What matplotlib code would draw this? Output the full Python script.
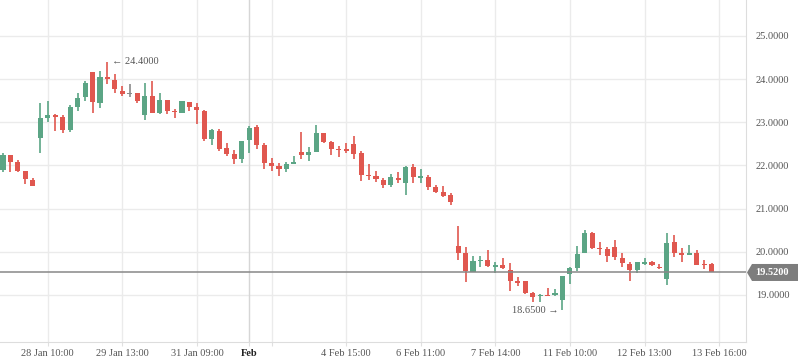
import matplotlib.pyplot as plt
from matplotlib.patches import Polygon

# giá mở / cao / thấp / đóng cho từng nến
opens = [21.90, 22.24, 22.08, 21.87, 21.66, 22.64, 23.10, 23.17, 23.12, 22.82,
         23.36, 23.59, 24.17, 23.45, 24.05, 23.98, 23.73, 23.66, 23.68, 23.17,
         23.61, 23.22, 23.52, 23.26, 23.22, 23.47, 23.36, 23.26, 22.61, 22.80,
         22.41, 22.27, 22.15, 22.59, 22.89, 22.48, 22.06, 21.99, 21.92, 22.03,
         22.31, 22.24, 22.31, 22.75, 22.54, 22.38, 22.38, 22.50, 22.29, 21.78,
         21.76, 21.66, 21.55, 21.71, 21.59, 21.96, 21.73, 21.73, 21.50, 21.39,
         21.32, 20.14, 19.97, 19.53, 19.79, 19.81, 19.67, 19.70, 19.58, 19.32,
         19.32, 19.05, 18.98, 19.00, 19.00, 18.88, 19.49, 19.63, 19.97, 20.44,
         20.09, 20.07, 20.11, 19.86, 19.72, 19.58, 19.74, 19.76, 19.65, 19.37,
         20.23, 19.97, 19.93, 19.97, 19.72, 19.72]
highs = [22.29, 22.24, 22.13, 21.87, 21.71, 23.45, 23.49, 23.19, 23.17, 23.40,
         23.68, 23.96, 24.17, 24.19, 24.40, 24.12, 23.84, 23.89, 23.68, 23.91,
         23.96, 23.68, 23.52, 23.31, 23.49, 23.47, 23.45, 23.29, 22.85, 22.85,
         22.52, 22.36, 22.57, 22.92, 22.94, 22.52, 22.17, 22.06, 22.08, 22.22,
         22.78, 22.43, 22.94, 22.75, 22.57, 22.45, 22.52, 22.68, 22.34, 22.03,
         21.87, 21.71, 21.80, 21.85, 21.99, 22.03, 21.92, 21.78, 21.55, 21.53,
         21.36, 20.60, 20.11, 19.90, 19.90, 20.04, 19.76, 19.86, 19.74, 19.42,
         19.32, 19.07, 19.02, 19.16, 19.14, 19.44, 19.65, 20.14, 20.51, 20.46,
         20.23, 20.11, 20.27, 19.97, 19.76, 19.76, 19.86, 19.79, 19.72, 20.44,
         20.39, 20.09, 20.16, 20.04, 19.81, 19.74]
lows = [21.85, 21.85, 21.85, 21.57, 21.53, 22.29, 23.00, 22.80, 22.75, 22.78,
        23.26, 23.49, 23.22, 23.33, 23.89, 23.68, 23.61, 23.59, 23.45, 23.05,
        23.22, 23.19, 23.19, 23.10, 23.22, 23.26, 22.96, 22.57, 22.48, 22.34,
        22.22, 22.03, 22.06, 22.29, 22.38, 21.92, 21.87, 21.76, 21.85, 22.03,
        22.15, 22.10, 22.31, 22.52, 22.24, 22.20, 22.29, 22.15, 21.64, 21.66,
        21.62, 21.48, 21.50, 21.59, 21.32, 21.59, 21.59, 21.43, 21.36, 21.27,
        21.09, 19.81, 19.30, 19.53, 19.65, 19.65, 19.51, 19.60, 19.09, 19.21,
        19.02, 18.84, 18.84, 18.98, 18.98, 18.65, 19.26, 19.56, 19.97, 20.07,
        19.93, 19.76, 19.81, 19.65, 19.32, 19.51, 19.70, 19.67, 19.60, 19.23,
        19.88, 19.76, 19.93, 19.70, 19.60, 19.52]
closes = [22.24, 22.08, 21.87, 21.69, 21.53, 23.10, 23.17, 23.12, 22.82, 23.36,
          23.56, 23.91, 23.47, 24.05, 24.00, 23.77, 23.66, 23.66, 23.49, 23.61,
          23.22, 23.52, 23.26, 23.24, 23.49, 23.36, 23.29, 22.61, 22.82, 22.38,
          22.27, 22.15, 22.57, 22.87, 22.48, 22.06, 21.99, 21.92, 22.03, 22.08,
          22.24, 22.31, 22.75, 22.54, 22.38, 22.36, 22.34, 22.27, 21.78, 21.76,
          21.69, 21.55, 21.73, 21.66, 21.96, 21.73, 21.75, 21.50, 21.39, 21.29,
          21.15, 19.97, 19.56, 19.79, 19.81, 19.67, 19.70, 19.63, 19.32, 19.30,
          19.05, 18.95, 19.00, 18.98, 19.05, 19.44, 19.63, 19.95, 20.44, 20.09,
          20.07, 19.90, 19.88, 19.74, 19.58, 19.76, 19.76, 19.70, 19.63, 20.20,
          19.97, 19.93, 19.97, 19.70, 19.70, 19.52]

# nhãn trục x (vị trí theo số thứ tự nến)
tick_pos = [6, 16, 26, 33, 36, 46, 56, 66, 76, 86, 96]
tick_labels = ['28 Jan 10:00', '29 Jan 13:00', '31 Jan 09:00', 'Feb', '',
               '4 Feb 15:00', '6 Feb 11:00', '7 Feb 14:00', '11 Feb 10:00',
               '12 Feb 13:00', '13 Feb 16:00']
y_ticks = [19, 20, 21, 22, 23, 24, 25]
last_price = 19.52
max_idx = 14
min_idx = 75

green = '#5ba585'
red = '#e0574f'
grey = '#8a8a8a'
font = ['Liberation Serif', 'DejaVu Serif']

fig = plt.figure(figsize=(7.98, 3.63), dpi=100)
ax = fig.add_axes([0, 21 / 363, 746 / 798, 342 / 363])

# lưới
for y in y_ticks:
    ax.axhline(y, color='#ebebeb', lw=1, zorder=0)
for p, lab in zip(tick_pos, tick_labels):
    ax.axvline(p, color='#d6d6d6' if lab == 'Feb' else '#ebebeb', lw=1, zorder=0)

# vẽ nến
for i in range(len(opens)):
    o, h, l, c = opens[i], highs[i], lows[i], closes[i]
    if c > o:
        col = green
    elif c < o:
        col = red
    else:
        col = grey
    ax.plot([i, i], [l, h], color=col, lw=1.2, zorder=2, solid_capstyle='butt')
    bottom = min(o, c)
    height = max(abs(c - o), 0.03)
    ax.bar(i, height, bottom=bottom - (0.015 if abs(c - o) < 0.03 else 0),
           width=0.68, color=col, zorder=3)

# đường giá hiện tại
ax.axhline(last_price, color='#888888', lw=1.1, zorder=4)

ax.set_xlim(-0.4, 99.6)
ax.set_ylim(17.91, 25.83)

ax.set_xticks(tick_pos)
ax.set_xticklabels(tick_labels, fontsize=7.5, color='#555555', family=font)
for t in ax.get_xticklabels():
    if t.get_text() == 'Feb':
        t.set_fontweight('bold')
        t.set_color('#222222')
ax.tick_params(axis='x', length=3, color='#e0e0e0', pad=2)

ax.yaxis.tick_right()
ax.set_yticks(y_ticks)
ax.set_yticklabels([f'{v:.4f}' for v in y_ticks], fontsize=7.5, color='#555555', family=font)
ax.tick_params(axis='y', length=0, pad=7)

for s in ['top', 'left']:
    ax.spines[s].set_visible(False)
ax.spines['bottom'].set_color('#dddddd')
ax.spines['right'].set_color('#dddddd')

# chú thích cao nhất / thấp nhất
ax.annotate(f'\u2190 {highs[max_idx]:.4f}', (max_idx, highs[max_idx]),
            xytext=(3, 0), textcoords='offset points', va='center', ha='left',
            fontsize=7.5, color='#555555', family=font)
ax.annotate(f'{lows[min_idx]:.4f} \u2192', (min_idx, lows[min_idx]),
            xytext=(-3, 0), textcoords='offset points', va='center', ha='right',
            fontsize=7.5, color='#555555', family=font)

# nhãn giá cuối ở trục phải
ty = ax.transData.transform((0, last_price))[1] / fig.bbox.height
x0 = 747 / 798
x1 = 752 / 798
hh = 8.5 / 363
poly = Polygon([[x0, ty], [x1, ty + hh], [1.0, ty + hh], [1.0, ty - hh], [x1, ty - hh]],
               closed=True, transform=fig.transFigure, facecolor='#7d7d7d',
               edgecolor='none', clip_on=False)
fig.patches.append(poly)
fig.text(772 / 798, ty, f'{last_price:.4f}', ha='center', va='center',
         fontsize=7.5, color='white', fontweight='bold', family=font)

plt.savefig('out.png', dpi=100)
